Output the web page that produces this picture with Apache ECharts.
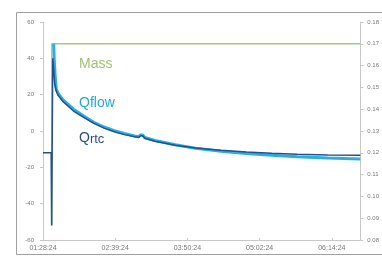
<!DOCTYPE html>
<html><head><meta charset="utf-8">
<script src="https://cdn.jsdelivr.net/npm/echarts@6/dist/echarts.min.js"></script>
<style>html,body{margin:0;padding:0;background:#fff}#c{width:382px;height:262px}</style>
</head><body><div id="c"></div>
<script>
// x in minutes from 01:28:24
const xTickLabels = ["01:28:24","02:39:24","03:50:24","05:02:24","06:14:24"];
const xTickStep = 71;
const xMax = 312;
const leftTicks = {min:-60, max:60, interval:20};
const rightTicks = {min:0.08, max:0.18, interval:0.01};

const qrtcX = [0,8,8.5,9,9.6,10.5,11.5,13,15,20,30,40,50,60,70,80,90,94,96,98,100,110,130,150,175,200,225,250,280,312];
const qrtcY = [-12,-12,-52,-52,40,34,26,22,19.5,16,11,7.5,4.2,1.6,-0.4,-2,-3.2,-3.6,-2.6,-2.6,-4,-5.6,-7.8,-9.3,-10.6,-11.6,-12.3,-12.8,-13.2,-13.4];
const qflowX = [10.5,11,12,13,15,20,30,40,50,60,70,80,90,94,96,98,100,110,130,150,175,200,225,250,280,312];
const qflowY = [48,40,30,23,20.5,17,12,8.2,4.8,2.2,0.2,-1.4,-2.7,-3.1,-2.2,-2.2,-3.6,-5.2,-7.6,-9.5,-11.1,-12.4,-13.4,-14.2,-14.9,-15.4];
const massX = [8.7,8.7,312];
const massY = [-52,48,48];

const zip = (a,b)=>a.map((v,i)=>[v,b[i]]);
const chart = echarts.init(document.getElementById('c'));
const axisGrey = '#c8c8c8';
const labelGrey = '#777';
chart.setOption({
  animation:false,
  backgroundColor:'#fff',
  grid:{left:43, right:18, top:22, bottom:22},
  xAxis:{type:'value', min:0, max:xMax, interval:xTickStep,
    axisLine:{onZero:false, lineStyle:{color:axisGrey}},
    axisTick:{show:true, inside:true, length:2, lineStyle:{color:axisGrey}},
    splitLine:{show:false},
    axisLabel:{showMaxLabel:false, color:labelGrey, fontSize:7, fontFamily:'Liberation Sans', margin:5,
      formatter:v=>xTickLabels[Math.round(v/xTickStep)]||''}},
  yAxis:[
    {type:'value', min:leftTicks.min, max:leftTicks.max, interval:leftTicks.interval,
      axisLine:{show:true, lineStyle:{color:axisGrey}},
      axisTick:{show:true, length:3, lineStyle:{color:axisGrey}},
      splitLine:{show:false},
      axisLabel:{color:labelGrey, fontSize:6, fontFamily:'Liberation Sans', margin:9}},
    {type:'value', min:rightTicks.min, max:rightTicks.max, interval:rightTicks.interval, position:'right',
      axisLine:{show:true, lineStyle:{color:axisGrey}},
      axisTick:{show:true, length:3, lineStyle:{color:axisGrey}},
      splitLine:{show:false},
      axisLabel:{color:labelGrey, fontSize:6, fontFamily:'Liberation Sans', margin:7,
        formatter:v=>v.toFixed(2)}}
  ],
  series:[
    {name:'Mass', type:'line', data:zip(massX,massY), showSymbol:false, lineStyle:{color:'#a6c97c', width:1.5}, z:1},
    {name:'Qflow', type:'line', data:zip(qflowX,qflowY), showSymbol:false, lineStyle:{color:'#2aaee0', width:3}, z:2},
    {name:'Qrtc', type:'line', data:zip(qrtcX,qrtcY), showSymbol:false, lineStyle:{color:'#24508c', width:1.5}, z:3}
  ],
  graphic:[
    {type:'rect', shape:{x:16.5, y:12.5, width:380, height:242}, style:{fill:'none', stroke:'#a0a0a0', lineWidth:1}, silent:true},
    {type:'text', left:79, top:57, style:{text:'Mass', fill:'#9dc36e', font:'14px "Liberation Sans"'}},
    {type:'text', left:79, top:96, style:{text:'Qflow', fill:'#22a9dc', font:'14px "Liberation Sans"'}},
    {type:'text', left:79, top:131, style:{text:'Q{s|rtc}', rich:{s:{fill:'#2a4f88', font:'13px "Liberation Sans"', padding:[3,0,0,0]}}, fill:'#2a4f88', font:'14px "Liberation Sans"'}}
  ]
});
</script></body></html>
